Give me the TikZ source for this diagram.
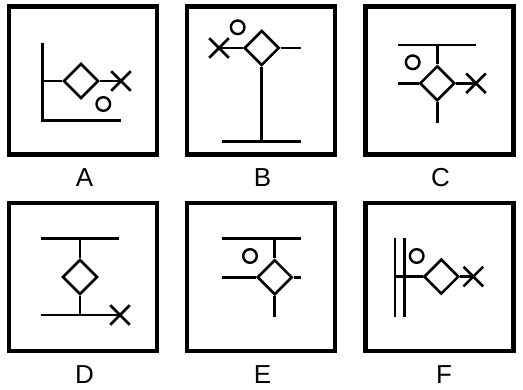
\documentclass[tikz,border=0pt]{standalone}
\usepackage{fontspec}
\setmainfont{Liberation Sans}
\usetikzlibrary{shapes.geometric,shapes.misc}
\begin{document}
\begin{tikzpicture}[x=1pt,y=-1pt,
  frame/.style={draw=black,line width=4.5pt},
  ln/.style={line width=2.6pt,line cap=butt},
  dia/.style={draw,shape=diamond,line width=2.6pt,minimum width=35pt,minimum height=35pt,inner sep=0pt},
  crs/.style={draw,shape=cross out,line width=2.6pt,minimum size=17pt,inner sep=0pt},
  circ/.style={draw,circle,line width=2.4pt,minimum size=13.6pt,inner sep=0pt},
  lab/.style={font=\fontsize{26pt}{28pt}\selectfont,inner sep=0pt}]
\useasboundingbox (0,0) rectangle (523,390);
% frames
\node[frame,minimum size=148pt,inner sep=0pt] (fa) at (82.9,80.4) {};
\node[frame,minimum size=148pt,inner sep=0pt] (fb) at (261.2,80.4) {};
\node[frame,minimum size=148pt,inner sep=0pt] (fc) at (439.5,80.4) {};
\node[frame,minimum size=148pt,inner sep=0pt] (fd) at (82.9,277.2) {};
\node[frame,minimum size=148pt,inner sep=0pt] (fe) at (261.2,277.2) {};
\node[frame,minimum size=148pt,inner sep=0pt] (ff) at (439.5,277.2) {};
% labels
\node[lab] (la) at (84.5,178) {A};
\node[lab] (lb) at (262.5,178) {B};
\node[lab] (lc) at (440.5,178) {C};
\node[lab] (ld) at (84.5,375) {D};
\node[lab] (le) at (262.5,375) {E};
\node[lab] (lf) at (444,375) {F};
% ---- A
\coordinate (a1) at (42.3,42.7);
\coordinate (a2) at (42.3,120.7);
\coordinate (a3) at (120.5,120.7);
\coordinate (a4) at (42.3,81);
\node[dia] (ad) at (81,81) {};
\node[crs] (ax) at (121,81) {};
\node[circ] (ao) at (103.3,104) {};
\draw[ln] (a1) -- (a2) -- (a3);
\draw[ln] (a4) -- (ad.west);
\draw[ln] (ad.east) -- (ax.center);
% ---- B
\node[dia] (bd) at (261.7,48) {};
\node[crs] (bx) at (219,48) {};
\node[circ] (bo) at (237.7,27.3) {};
\coordinate (b1) at (300.5,48);
\coordinate (b2) at (261.7,141.7);
\coordinate (b3) at (222.3,141.7);
\coordinate (b4) at (301,141.7);
\draw[ln] (bd.east) -- (b1);
\draw[ln] (bd.west) -- (bx.center);
\draw[ln] (bd.south) -- (b2);
\draw[ln] (b3) -- (b4);
% ---- C
\coordinate (c1) at (397.7,45);
\coordinate (c2) at (476,45);
\coordinate (c3) at (437.3,45);
\coordinate (c4) at (397.7,83.3);
\coordinate (c5) at (437.3,123.3);
\node[dia] (cd) at (437.3,83.3) {};
\node[crs] (cx) at (476,83.3) {};
\node[circ] (co) at (412.7,62.3) {};
\draw[ln] (c1) -- (c2);
\draw[ln] (c3) -- (cd.north);
\draw[ln] (c4) -- (cd.west);
\draw[ln] (cd.east) -- (cx.center);
\draw[ln] (cd.south) -- (c5);
% ---- D
\coordinate (d1) at (40.7,238.3);
\coordinate (d2) at (119.3,238.3);
\coordinate (d3) at (80,238.3);
\coordinate (d4) at (80,315);
\coordinate (d5) at (40.7,315);
\node[dia] (dd) at (80,277) {};
\node[crs] (dx) at (120,315) {};
\draw[ln] (d1) -- (d2);
\draw[ln] (d3) -- (dd.north);
\draw[ln] (dd.south) -- (d4);
\draw[ln] (d5) -- (dx.center);
% ---- E
\coordinate (e1) at (222.3,238.3);
\coordinate (e2) at (300.7,238.3);
\coordinate (e3) at (274.7,238.3);
\coordinate (e4) at (222.3,277.3);
\coordinate (e5) at (300.5,277.3);
\coordinate (e6) at (274.7,316.7);
\node[dia] (ed) at (274.7,277.3) {};
\node[circ] (eo) at (250,256) {};
\draw[ln] (e1) -- (e2);
\draw[ln] (e3) -- (ed.north);
\draw[ln] (e4) -- (ed.west);
\draw[ln] (ed.east) -- (e5);
\draw[ln] (ed.south) -- (e6);
% ---- F
\coordinate (f1) at (395,237.7);
\coordinate (f2) at (395,316.7);
\coordinate (f3) at (404.3,237.7);
\coordinate (f4) at (404.3,316.7);
\coordinate (f5) at (395,276.6);
\node[dia] (fd) at (441.3,276.6) {};
\node[crs] (fx) at (473.3,276.6) {};
\node[circ] (fo) at (416.7,256) {};
\draw[ln] (f1) -- (f2);
\draw[ln] (f3) -- (f4);
\draw[ln] (f5) -- (fd.west);
\draw[ln] (fd.east) -- (fx.center);
\end{tikzpicture}
\end{document}
